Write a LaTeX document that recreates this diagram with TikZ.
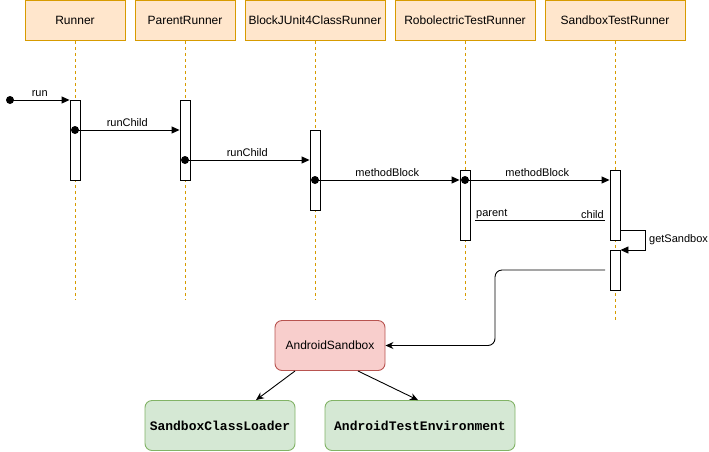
\documentclass[tikz,border=0pt]{standalone}
\usepackage{fontspec}
\setmainfont{Liberation Sans}
\newfontfamily\monofont{Liberation Mono}
\usetikzlibrary{arrows.meta}
\definecolor{hdrfill}{HTML}{FFE6CC}
\definecolor{hdrline}{HTML}{D79B00}
\definecolor{redfill}{HTML}{F8CECC}
\definecolor{redline}{HTML}{B85450}
\definecolor{grnfill}{HTML}{D5E8D4}
\definecolor{grnline}{HTML}{82B366}
\tikzset{
  hdr/.style={draw=hdrline, fill=hdrfill, line width=0.9pt, minimum height=40pt, inner sep=0pt, font=\fontsize{12}{14}\selectfont},
  life/.style={draw=hdrline, line width=0.9pt, dash pattern=on 3pt off 3pt},
  act/.style={draw=black, fill=white, line width=0.9pt, minimum width=10pt, inner sep=0pt},
  msg/.style={draw=black, line width=0.9pt, -{Triangle[length=8pt,width=7pt]}},
  lbl/.style={font=\fontsize{11}{13}\selectfont, inner sep=1pt},
  startdot/.style={circle, fill=black, minimum size=8pt, inner sep=0pt},
  redbox/.style={draw=redline, fill=redfill, rounded corners=7pt, line width=0.9pt, minimum width=110pt, minimum height=50pt, font=\fontsize{12}{14}\selectfont},
  grnbox/.style={draw=grnline, fill=grnfill, rounded corners=7pt, line width=0.9pt, minimum height=50pt, font=\monofont\bfseries\fontsize{13}{15}\selectfont},
  comp/.style={line width=0.9pt, -{Stealth[length=8pt,width=7pt]}},
}
\begin{document}
\begin{tikzpicture}[x=1pt,y=-1pt]
\useasboundingbox (0,0) rectangle (709,451);
% headers
\node[hdr, minimum width=100pt] (h1) at (75,20.5) {Runner};
\node[hdr, minimum width=100pt] (h2) at (185,20.5) {ParentRunner};
\node[hdr, minimum width=140pt] (h3) at (315,20.5) {BlockJUnit4ClassRunner};
\node[hdr, minimum width=140pt] (h4) at (465,20.5) {RobolectricTestRunner};
\node[hdr, minimum width=140pt] (h5) at (615,20.5) {SandboxTestRunner};
% lifeline ends
\coordinate (e1) at (75,300);
\coordinate (e2) at (185,300);
\coordinate (e3) at (315,300);
\coordinate (e4) at (465,300);
\coordinate (e5) at (615,320);
\draw[life] (h1.south) -- (e1);
\draw[life] (h2.south) -- (e2);
\draw[life] (h3.south) -- (e3);
\draw[life] (h4.south) -- (e4);
\draw[life] (h5.south) -- (e5);
% activations
\node[act, minimum height=80pt] (a1) at (75,140) {};
\node[act, minimum height=80pt] (a2) at (185,140) {};
\node[act, minimum height=80pt] (a3) at (315,170) {};
\node[act, minimum height=70pt] (a4) at (465,205) {};
\node[act, minimum height=70pt] (a5) at (615,205) {};
\node[act, minimum height=40pt] (a6) at (615,270) {};
% start dots
\node[startdot] (d0) at (10,100) {};
\node[startdot] (d1) at (75,130) {};
\node[startdot] (d2) at (185,160) {};
\node[startdot] (d3) at (315,180) {};
\node[startdot] (d4) at (465,180) {};
% messages
\draw[msg] (d0.center) -- (a1.west |- d0) node[lbl, midway, above=2pt] {run};
\draw[msg] (d1.center) -- (a2.west |- d1) node[lbl, midway, above=2pt] {runChild};
\draw[msg] (d2.center) -- (a3.west |- d2) node[lbl, midway, above=2pt] {runChild};
\draw[msg] (d3.center) -- (a4.west |- d3) node[lbl, midway, above=2pt] {methodBlock};
\draw[msg] (d4.center) -- (a5.west |- d4) node[lbl, midway, above=2pt] {methodBlock};
% return parent/child
\coordinate (r1) at (475,220);
\coordinate (r2) at (605,220);
\draw[line width=0.9pt] (r1) -- (r2);
\node[lbl, anchor=south west] (lp) at (r1) {parent};
\node[lbl, anchor=south east] (lc) at (r2) {child};
% self call getSandbox
\coordinate (s1) at (645,230);
\coordinate (s2) at (645,250);
\draw[msg] (a5.east |- s1) -- (s1) -- (s2) -- (a6.east |- s2);
\node[lbl, anchor=west] (gs) at (648,240) {getSandbox};
% bottom nodes
\node[redbox] (as) at (330,345.5) {AndroidSandbox};
\node[grnbox, minimum width=150pt] (scl) at (220,425.5) {SandboxClassLoader};
\node[grnbox, minimum width=190pt] (ate) at (420,425.5) {AndroidTestEnvironment};
% return to AndroidSandbox
\coordinate (q1) at (605,270);
\coordinate (q2) at (495,270);
\draw[line width=0.9pt, rounded corners=7pt, -{Stealth[length=8pt,width=7pt]}] (q1) -- (q2) -- (q2 |- as.east) -- (as.east);
% composition arrows
\coordinate (c1) at (295,371);
\coordinate (c2) at (358,371);
\draw[comp] (c1) -- (scl.north -| 256,0);
\draw[comp] (c2) -- (ate.north -| 418,0);
\end{tikzpicture}
\end{document}
